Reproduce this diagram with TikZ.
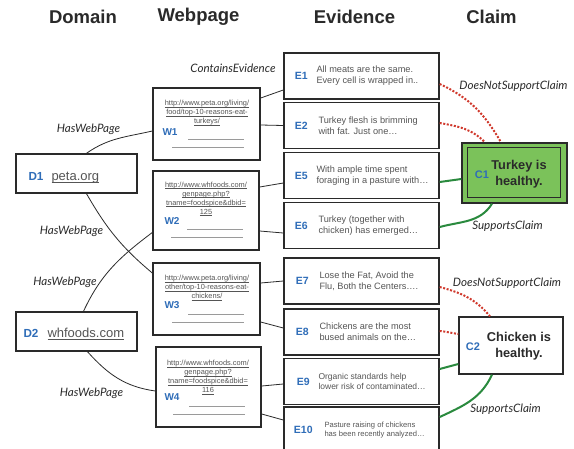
\documentclass[tikz,border=0pt]{standalone}
\usepackage{fontspec}
\setmainfont{Liberation Sans}
\newfontfamily\relfont{Lato}
\usepackage{xcolor}
\usetikzlibrary{positioning}
\definecolor{Ink}      {HTML}{2A2A2A}
\definecolor{IdBlue}   {HTML}{2F6DB8}
\definecolor{TextGrey} {HTML}{555555}
\definecolor{RuleGrey} {HTML}{9A9A9A}
\definecolor{ClaimFill}{HTML}{7BC25A}
\definecolor{SupGreen} {HTML}{2A8A3E}
\definecolor{NotRed}   {HTML}{D0392D}

% underlined link text, rule at a fixed depth
\newsavebox\undlbox
\newcommand{\undl}[1]{\sbox\undlbox{#1}\usebox\undlbox\hspace{-\wd\undlbox}\rule[-0.2em]{\wd\undlbox}{0.06em}}

\tikzset{
  box/.style={draw=Ink, line width=1.4pt, fill=white, inner sep=0pt},
  evbox/.style={box, minimum width=155pt, minimum height=46pt},
  head/.style={font=\fontsize{18.5}{20}\selectfont\bfseries, text=Ink},
  ident/.style={font=\fontsize{#1}{#1}\selectfont\bfseries, text=IdBlue, inner sep=0pt},
  domtext/.style={font=\fontsize{13}{15}\selectfont, text=TextGrey, inner sep=0pt},
  evtext/.style={font=\fontsize{9.2}{11}\selectfont, text=TextGrey, align=left,
                 inner sep=0pt, anchor=west},
  url/.style={font=\fontsize{7.4}{9}\selectfont, text=TextGrey, align=center, inner sep=0pt},
  claimtext/.style={font=\fontsize{12.8}{16}\selectfont\bfseries, text=Ink, align=center},
  rel/.style={font=\relfont\itshape\fontsize{11.6}{13}\selectfont, text=Ink, inner sep=0pt},
  blank/.style={draw=RuleGrey, line width=0.6pt},
  link/.style={draw=Ink, line width=0.8pt},
  sup/.style={draw=SupGreen, line width=2pt},
  notsup/.style={draw=NotRed, line width=2pt, dash pattern=on 2pt off 1.6pt},
}

\begin{document}
\begin{tikzpicture}[x=1pt, y=-1pt]
  \path[use as bounding box, fill=white] (0,0) rectangle (574,448);
  % Column headers
  \node[head] (hdom) at (83,16.5)    {Domain};
  \node[head] (hweb) at (198.5,16.5) {Webpage};
  \node[head] (hevi) at (354.5,16.5) {Evidence};
  \node[head] (hcla) at (491.5,16.5) {Claim};

  % Domains
  \node[box, minimum width=121pt, minimum height=39pt] (d1) at (76.5,173.5) {};
  \node[ident=11.7, anchor=base west] (d1id) at ([xshift=13pt,yshift=-7pt]d1.west) {D1};
  \node[domtext, anchor=base west] (d1url) at ([xshift=36pt,yshift=-7pt]d1.west) {\undl{peta.org}};
  \node[box, minimum width=121pt, minimum height=39pt] (d2) at (76.5,331.5) {};
  \node[ident=11.7, anchor=base west] (d2id) at ([xshift=8pt,yshift=-6pt]d2.west) {D2};
  \node[domtext, anchor=base west] (d2url) at ([xshift=32pt,yshift=-6pt]d2.west) {\undl{whfoods.com}};

  % Webpages
  \node[box, minimum width=107pt, minimum height=72pt] (w1) at (206.5,124) {};
  \node[url] (w1url) at (207,113) {\undl{http://www.peta.org/living/}\\\undl{food/top-10-reasons-eat-}\\\undl{turkeys/}};
  \node[ident=10] (w1id) at (170,132) {W1};
  \node[box, minimum width=106pt, minimum height=79pt] (w2) at (206,210.5) {};
  \node[url] (w2url) at (206,199) {\undl{http://www.whfoods.com/}\\\undl{genpage.php?}\\\undl{tname=foodspice\&dbid=}\\\undl{125}};
  \node[ident=10] (w2id) at (172,221) {W2};
  \node[box, minimum width=107pt, minimum height=72pt] (w3) at (206.5,299) {};
  \node[url] (w3url) at (207,288) {\undl{http://www.peta.org/living/}\\\undl{other/top-10-reasons-eat-}\\\undl{chickens/}};
  \node[ident=10] (w3id) at (172,305) {W3};
  \node[box, minimum width=105pt, minimum height=80pt] (w4) at (208.5,387) {};
  \node[url] (w4url) at (208,377.5) {\undl{http://www.whfoods.com/}\\\undl{genpage.php?}\\\undl{tname=foodspice\&dbid=}\\\undl{116}};
  \node[ident=10] (w4id) at (172,397) {W4};
  \foreach \w in {w1,w2,w3,w4}{
    \draw[blank] ([xshift=-17pt,yshift=21pt]\w.south east) -- ++(-56,0);
    \draw[blank] ([xshift=-17pt,yshift=13pt]\w.south east) -- ++(-72,0);
  }

  % Evidence
  \node[evbox] (e1) at (361.5,76) {};
  \node[ident=10.5] (e1id) at ([xshift=18pt]e1.west) {E1};
  \node[evtext] (e1txt) at ([xshift=33pt]e1.west) {All meats are the same.\\Every cell is wrapped in..};
  \node[evbox] (e2) at (361.5,125.5) {};
  \node[ident=10.5] (e2id) at ([xshift=18pt]e2.west) {E2};
  \node[evtext] (e2txt) at ([xshift=35pt]e2.west) {Turkey flesh is brimming\\with fat. Just one\ldots};
  \node[evbox] (e5) at (361.5,175.5) {};
  \node[ident=10.5] (e5id) at ([xshift=18pt]e5.west) {E5};
  \node[evtext] (e5txt) at ([xshift=33pt]e5.west) {With ample time spent\\foraging in a pasture with\ldots};
  \node[evbox] (e6) at (361.5,225.5) {};
  \node[ident=10.5] (e6id) at ([xshift=18pt]e6.west) {E6};
  \node[evtext] (e6txt) at ([xshift=35pt]e6.west) {Turkey (together with\\chicken) has emerged\ldots};
  \node[evbox] (e7) at (361.5,281) {};
  \node[ident=10.5] (e7id) at ([xshift=19pt]e7.west) {E7};
  \node[evtext] (e7txt) at ([xshift=36pt]e7.west) {Lose the Fat, Avoid the\\Flu, Both the Centers\ldots.};
  \node[evbox] (e8) at (361.5,332) {};
  \node[ident=10.5] (e8id) at ([xshift=19pt]e8.west) {E8};
  \node[evtext] (e8txt) at ([xshift=36pt]e8.west) {Chickens are the most\\bused animals on the\ldots};
  \node[evbox] (e9) at (361.5,381.5) {};
  \node[ident=10.5] (e9id) at ([xshift=20pt]e9.west) {E9};
  \node[evtext, font=\fontsize{8.5}{10}\selectfont] (e9txt) at ([xshift=35pt]e9.west) {Organic standards help\\lower risk of contaminated\ldots};
  \node[evbox] (e10) at (361.5,430) {};
  \node[ident=10.5] (e10id) at ([xshift=20pt]e10.west) {E10};
  \node[evtext, font=\fontsize{7.6}{9}\selectfont] (e10txt) at ([xshift=41pt]e10.west) {Pasture raising of chickens\\has been recently analyzed\ldots};

  % Claims
  \node[box, fill=ClaimFill, minimum width=105pt, minimum height=60pt] (c1) at (514.5,173) {};
  \draw[draw=Ink, line width=1.4pt] ([xshift=6pt,yshift=-5pt]c1.north west) rectangle ([xshift=-7pt,yshift=6pt]c1.south east);
  \node[ident=11] (c1id) at (482,175) {C1};
  \node[claimtext] (c1txt) at (519,174) {Turkey is\\healthy.};
  \node[box, minimum width=104pt, minimum height=57pt] (c2) at (511,345.5) {};
  \node[ident=11] (c2id) at (473,347) {C2};
  \node[claimtext] (c2txt) at (519,346) {Chicken is\\healthy.};

  % HasWebPage
  \draw[link] ([xshift=10pt]d1.north) to[out=35,in=193] ([yshift=-7pt]w1.west);
  \draw[link] ([xshift=10pt]d1.south) to[out=-60,in=140] ([yshift=26pt]w3.west);
  \draw[link] ([xshift=7pt]d2.north) to[out=65,in=217] ([yshift=-22pt]w2.west);
  \draw[link] ([xshift=11pt]d2.south) to[out=-48,in=172] ([yshift=-4pt]w4.west);
  \node[rel] (l1) at (88.5,129) {HasWebPage};
  \node[rel] (l2) at (71.5,231) {HasWebPage};
  \node[rel] (l3) at (65,282)   {HasWebPage};
  \node[rel] (l4) at (91.5,393) {HasWebPage};

  % ContainsEvidence
  \draw[link] ([yshift=26pt]w1.east) -- ([yshift=-14pt]e1.west);
  \draw[link] ([yshift=-1pt]w1.east) -- (e2.west);
  \draw[link] ([yshift=23.5pt]w2.east) -- ([yshift=-7.5pt]e5.west);
  \draw[link] ([yshift=-20.5pt]w2.east) -- ([yshift=-7.5pt]e6.west);
  \draw[link] ([yshift=16pt]w3.east) -- (e7.west);
  \draw[link] ([yshift=-23pt]w3.east) -- ([yshift=4pt]e8.west);
  \draw[link] ([yshift=1pt]w4.east) -- ([yshift=-2.5pt]e9.west);
  \draw[link] ([yshift=-27pt]w4.east) -- ([yshift=10pt]e10.west);
  \node[rel] (l5) at (233,68) {ContainsEvidence};

  % Claim relations
  \draw[notsup] ([yshift=-8pt]e1.east) to[out=-25,in=120] ([xshift=-13.5pt]c1.north);
  \draw[notsup] ([yshift=2.5pt]e2.east) to[out=-10,in=135] ([xshift=-29.5pt]c1.north);
  \draw[sup] ([yshift=-6.5pt]e5.east) -- ([yshift=-6pt]c1.west);
  \draw[sup] ([yshift=-1.5pt]e6.east) to[out=15,in=-122] ([xshift=-22.5pt]c1.south);
  \draw[notsup] ([yshift=-6pt]e7.east) to[out=-15,in=130] ([xshift=-21pt]c2.north);
  \draw[notsup] ([yshift=1pt]e8.east) to[out=-5,in=172] ([yshift=11.5pt]c2.west);
  \draw[sup] ([yshift=12.5pt]e9.east) -- ([yshift=-18.5pt]c2.west);
  \draw[sup] ([yshift=13pt]e10.east) to[out=25,in=-115] ([xshift=-19pt]c2.south);
  \node[rel] (l6) at (513.5,86)  {DoesNotSupportClaim};
  \node[rel] (l7) at (507.5,226) {SupportsClaim};
  \node[rel] (l8) at (507,283)   {DoesNotSupportClaim};
  \node[rel] (l9) at (505.5,409) {SupportsClaim};
\end{tikzpicture}
\end{document}
